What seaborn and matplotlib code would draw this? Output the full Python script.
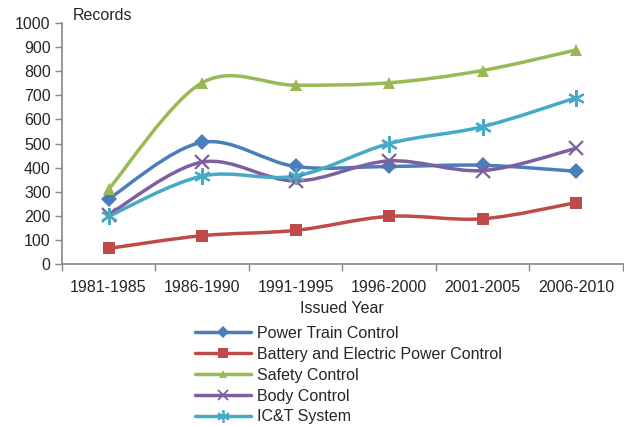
import numpy as np
import matplotlib
matplotlib.use("Agg")
import matplotlib.pyplot as plt
from matplotlib.path import Path
from matplotlib.patches import PathPatch
from matplotlib.lines import Line2D
import seaborn as sns

periods = ["1981-1985", "1986-1990", "1991-1995", "1996-2000", "2001-2005", "2006-2010"]
power_train = [270, 505, 405, 405, 410, 385]
battery = [65, 118, 140, 198, 188, 255]
safety = [310, 752, 742, 752, 803, 888]
body = [205, 423, 345, 428, 388, 480]
ict = [198, 365, 365, 500, 570, 690]

series = [
    ("Power Train Control", power_train, "#4A7EBB", "D", 8),
    ("Battery and Electric Power Control", battery, "#BE4B48", "s", 9),
    ("Safety Control", safety, "#98B954", "^", 8),
    ("Body Control", body, "#7D60A0", "x", 10),
    ("IC&T System", ict, "#46AAC5", (6, 2, 0), 12),
]

sns.set_style("white")
plt.rcParams["font.family"] = ["Liberation Sans", "DejaVu Sans"]
plt.rcParams["font.size"] = 11.5

fig = plt.figure(figsize=(6.24, 4.26), dpi=100)
ax = fig.add_axes([0.099, 0.380, 0.899, 0.566])


def smooth_path(xs, ys):
    # Excel-like smoothed line: cubic bezier through each point
    pts = np.column_stack([xs, ys]).astype(float)
    n = len(pts)
    verts = [pts[0]]
    codes = [Path.MOVETO]
    for i in range(n - 1):
        p0 = pts[i - 1] if i > 0 else pts[i]
        p1 = pts[i]
        p2 = pts[i + 1]
        p3 = pts[i + 2] if i + 2 < n else pts[i + 1]
        c1 = p1 + (p2 - p0) / 6
        c2 = p2 - (p3 - p1) / 6
        verts += [c1, c2, p2]
        codes += [Path.CURVE4] * 3
    return Path(verts, codes)


xpos = np.arange(len(periods))
handles = []
for name, vals, color, marker, ms in series:
    patch = PathPatch(smooth_path(xpos, vals), facecolor="none", edgecolor=color,
                      lw=2.5, capstyle="round", joinstyle="round", zorder=2)
    ax.add_patch(patch)
    mew = 1.6 if marker in ("x",) or isinstance(marker, tuple) else 0
    sns.lineplot(x=xpos, y=vals, ax=ax, linestyle="none", marker=marker,
                 markersize=ms, color=color, markeredgecolor=color,
                 markeredgewidth=mew, zorder=3)
    handles.append(Line2D([0], [0], color=color, lw=2.5, marker=marker,
                          markersize=ms * 0.75, markeredgecolor=color,
                          markeredgewidth=mew * 0.8, label=name))

ax.set_xlim(-0.5, len(periods) - 0.5)
ax.set_ylim(0, 1000)
ax.set_yticks(range(0, 1001, 100))
ax.set_xticks(xpos)
ax.set_xticklabels(periods)
ax.set_xticks(np.arange(-0.5, len(periods)), minor=True)
ax.tick_params(axis="x", which="major", bottom=False, pad=8)
ax.tick_params(axis="x", which="minor", bottom=True, length=5, color="#868686",
               width=1, direction="out")
ax.tick_params(axis="y", left=True, length=5, color="#868686", width=1,
               direction="out", pad=3)
for s in ["top", "right"]:
    ax.spines[s].set_visible(False)
for s in ["left", "bottom"]:
    ax.spines[s].set_color("#868686")
    ax.spines[s].set_linewidth(1.2)
ax.set_xlabel("Issued Year", labelpad=4)
ax.set_ylabel("")
ax.text(0.02, 1.0, "Records", transform=ax.transAxes, va="bottom", ha="left")

fig.legend(handles=handles, loc="upper center", bbox_to_anchor=(0.558, 0.254),
           frameon=False, handlelength=3.5, labelspacing=0.37, handletextpad=0.4,
           borderpad=0)

fig.savefig("out.png", dpi=100)
